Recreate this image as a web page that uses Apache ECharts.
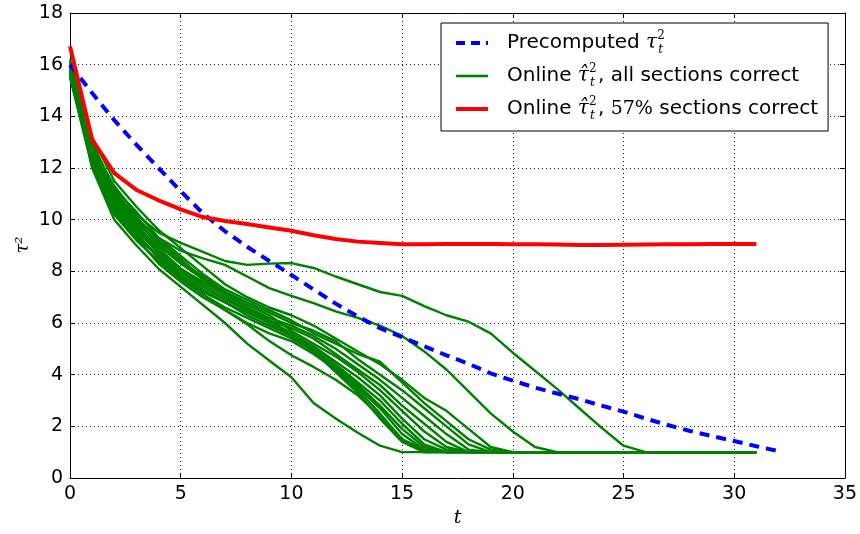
<!DOCTYPE html>
<html>
<head>
<meta charset="utf-8">
<script src="https://cdn.jsdelivr.net/npm/echarts@6/dist/echarts.min.js"></script>
<style>
  html, body { margin: 0; padding: 0; background: #fff; }
  #chart { width: 860px; height: 534px; }
</style>
</head>
<body>
<div id="chart"></div>
<script>
// x ticks / y ticks
var xTicks = [0, 5, 10, 15, 20, 25, 30, 35];
var yTicks = [0, 2, 4, 6, 8, 10, 12, 14, 16, 18];

// precomputed tau^2, t = 0..32
var precomputed = [16.0, 14.9, 13.85, 12.9, 12.0, 11.1, 10.25, 9.55, 8.95, 8.4, 7.86, 7.3, 6.75, 6.25, 5.8, 5.45,
  5.1, 4.75, 4.42, 4.05, 3.77, 3.5, 3.27, 3.05, 2.8, 2.57, 2.3, 2.05, 1.82, 1.62, 1.43, 1.23, 1.04];

// online, 57% sections correct, t = 0..31
var online57 = [16.7, 13.1, 11.8, 11.15, 10.75, 10.4, 10.1, 9.95, 9.83, 9.7, 9.57, 9.4, 9.25, 9.15, 9.1, 9.05,
  9.05, 9.06, 9.06, 9.06, 9.05, 9.05, 9.04, 9.02, 9.02, 9.03, 9.04, 9.05, 9.05, 9.06, 9.06, 9.06];

// online, all sections correct (one run per array, t = 0.., padded with 1.0 to t = 31)
var runA = [16.0, 12.8, 11.3, 10.2, 9.5, 9.1, 8.75, 8.4, 8.25, 8.3, 8.32, 8.13, 7.8, 7.5, 7.2, 7.05, 6.65, 6.3, 6.05, 5.6, 4.85, 4.15, 3.45, 2.7, 1.95, 1.25, 1.0];
var runB = [15.8, 12.5, 11.0, 10.0, 9.3, 8.8, 8.5, 8.25, 7.8, 7.35, 7.05, 6.77, 6.45, 6.2, 5.9, 5.5, 4.9, 4.2, 3.35, 2.5, 1.8, 1.2, 1.0];
var runC = [15.6, 12.0, 10.0, 9.0, 8.1, 7.4, 6.7, 6.0, 5.2, 4.55, 3.9, 2.9, 2.3, 1.75, 1.25, 1.0];
var runD = [15.9, 12.3, 10.4, 9.3, 8.6, 7.8, 7.1, 6.5, 5.95, 5.3, 4.75, 4.3, 3.8, 3.2, 2.4, 1.5, 1.1, 1.0];
var runE = [16.1, 13.2, 11.5, 10.5, 9.6, 8.9, 8.2, 7.5, 7.0, 6.6, 6.3, 5.9, 5.4, 4.9, 4.4, 3.8, 3.1, 2.6, 1.9, 1.2, 1.0];
var runF = [15.9, 13.0, 11.2, 10.3, 9.3, 8.6, 7.9, 7.3, 6.9, 6.5, 6.1, 5.6, 5.2, 4.8, 4.5, 3.7, 2.9, 2.2, 1.5, 1.1, 1.0];
var runG = [16.0, 12.8, 11.0, 10.0, 9.0, 8.3, 7.7, 7.2, 6.8, 6.4, 6.0, 5.7, 5.3, 4.6, 4.0, 3.4, 2.7, 2.0, 1.3, 1.0];
var runH = [15.7, 12.6, 10.8, 9.8, 8.9, 8.1, 7.6, 7.1, 6.6, 6.2, 5.9, 5.5, 5.0, 4.4, 3.8, 3.1, 2.4, 1.7, 1.1, 1.0];
var runI = [15.8, 12.5, 10.6, 9.6, 8.7, 8.0, 7.4, 6.9, 6.5, 6.1, 5.8, 5.4, 4.8, 4.2, 3.6, 2.8, 2.1, 1.4, 1.0];
var runJ = [16.2, 12.7, 10.9, 9.9, 9.1, 8.4, 7.8, 7.2, 6.7, 6.3, 5.7, 5.2, 4.7, 4.1, 3.4, 2.6, 1.8, 1.2, 1.0];
var runK = [15.6, 12.3, 10.4, 9.4, 8.6, 7.9, 7.3, 6.8, 6.4, 6.0, 5.6, 5.1, 4.5, 3.9, 3.2, 2.3, 1.5, 1.1, 1.0];
var runL = [15.9, 12.4, 10.5, 9.5, 8.5, 7.8, 7.2, 6.8, 6.3, 5.9, 5.5, 5.0, 4.4, 3.7, 3.0, 2.1, 1.3, 1.0];
var runM = [15.5, 12.1, 10.2, 9.2, 8.4, 7.7, 7.1, 6.6, 6.2, 5.8, 5.4, 4.9, 4.3, 3.6, 2.8, 1.9, 1.2, 1.0];
var runN = [16.0, 12.9, 11.1, 10.1, 9.2, 8.5, 7.7, 7.1, 6.6, 6.1, 5.6, 5.0, 4.3, 3.5, 2.7, 1.7, 1.1, 1.0];
var runO = [15.7, 12.2, 10.3, 9.3, 8.3, 7.6, 7.0, 6.5, 6.0, 5.6, 5.3, 4.8, 4.2, 3.4, 2.5, 1.5, 1.0];
var runP = [15.8, 12.6, 10.7, 9.7, 8.8, 8.1, 7.5, 7.0, 6.5, 6.0, 5.5, 4.9, 4.1, 3.3, 2.3, 1.4, 1.0];
var greenRuns = [runA, runB, runC, runD, runE, runF, runG, runH, runI, runJ, runK, runL, runM, runN, runO, runP];
var lastT = 31;
var floorValue = 1.0;

function pairs(arr) {
  var out = [];
  for (var i = 0; i < arr.length; i++) out.push([i, arr[i]]);
  return out;
}
function padRun(arr) {
  var out = arr.slice();
  while (out.length <= lastT) out.push(floorValue);
  return out;
}

var FONT = "DejaVu Sans";
var chart = echarts.init(document.getElementById("chart"));

var series = [];
greenRuns.forEach(function (r) {
  series.push({
    name: "all",
    type: "line",
    data: pairs(padRun(r)),
    symbol: "none",
    z: 2,
    lineStyle: { color: "#008000", width: 2.4 },
    itemStyle: { color: "#008000" }
  });
});
series.unshift({
  name: "pre",
  type: "line",
  data: pairs(precomputed),
  symbol: "none",
  z: 3,
  lineStyle: { color: "#0000ff", width: 4, type: [10, 7] },
  itemStyle: { color: "#0000ff" }
});
series.push({
  name: "part",
  type: "line",
  data: pairs(online57),
  symbol: "none",
  z: 4,
  lineStyle: { color: "#ff0000", width: 4 },
  itemStyle: { color: "#ff0000" }
});

var legendText = {
  pre: "{g| }Precomputed {m|τ}{sp|2}{sb|t}",
  all: "{g| }Online {m|τ̂}{sp|2}{sb|t}, all sections correct",
  part: "{g| }Online {m|τ̂}{sp|2}{sb|t}, {n|57%} sections correct"
};

chart.setOption({
  animation: false,
  backgroundColor: "#fff",
  grid: { left: 70, right: 15, top: 13, bottom: 56 },
  // y axis title, rotated
  graphic: [{
    type: "text",
    x: 23,
    y: 245,
    rotation: Math.PI / 2,
    style: {
      text: "τ²",
      fill: "#000",
      font: "italic 18px 'DejaVu Serif'",
      textAlign: "center",
      textVerticalAlign: "middle"
    }
  }],
  legend: {
    data: [
      { name: "pre", lineStyle: { width: 4, type: [9, 6], color: "#0000ff" } },
      { name: "all", lineStyle: { width: 2.6, color: "#008000" } },
      { name: "part", lineStyle: { width: 4, color: "#ff0000" } }
    ],
    orient: "vertical",
    left: 441,
    top: 23,
    padding: [7, 10, 9, 13],
    itemGap: 7,
    itemWidth: 32,
    itemHeight: 26,
    backgroundColor: "#fff",
    borderColor: "#000",
    borderWidth: 1,
    borderRadius: 0,
    itemStyle: { opacity: 0 },
    formatter: function (name) { return legendText[name]; },
    textStyle: {
      fontFamily: FONT,
      fontSize: 20,
      color: "#000",
      lineHeight: 26,
      rich: {
        g: { width: 14 },
        m: { fontFamily: "DejaVu Serif", fontStyle: "italic", fontSize: 20, lineHeight: 26 },
        n: { fontFamily: "DejaVu Serif", fontSize: 19, lineHeight: 26 },
        sp: { fontFamily: "DejaVu Serif", fontSize: 12, verticalAlign: "top", lineHeight: 16, width: 1 },
        sb: { fontFamily: "DejaVu Serif", fontStyle: "italic", fontSize: 12, verticalAlign: "bottom", lineHeight: 12, width: 8 }
      }
    }
  },
  xAxis: [{
    type: "value",
    min: xTicks[0],
    max: xTicks[xTicks.length - 1],
    interval: 5,
    name: "t",
    nameLocation: "middle",
    nameGap: 31,
    nameTextStyle: { fontFamily: "DejaVu Serif", fontStyle: "italic", fontSize: 19, color: "#000" },
    axisLine: { lineStyle: { color: "#000", width: 1 } },
    axisTick: { inside: true, length: 5, lineStyle: { color: "#000" } },
    axisLabel: { fontFamily: FONT, fontSize: 19, color: "#000", margin: 7 },
    splitLine: { show: true, lineStyle: { color: "#222", type: [1, 3], width: 1 } }
  }, {
    type: "value",
    position: "top",
    min: xTicks[0],
    max: xTicks[xTicks.length - 1],
    interval: 5,
    axisLine: { show: true, onZero: false, lineStyle: { color: "#000", width: 1 } },
    axisTick: { show: true, inside: true, length: 5, lineStyle: { color: "#000" } },
    axisLabel: { show: false },
    splitLine: { show: false }
  }],
  yAxis: [{
    type: "value",
    min: yTicks[0],
    max: yTicks[yTicks.length - 1],
    interval: 2,
    axisLine: { show: true, onZero: false, lineStyle: { color: "#000", width: 1 } },
    axisTick: { show: true, inside: true, length: 5, lineStyle: { color: "#000" } },
    axisLabel: { fontFamily: FONT, fontSize: 19, color: "#000", margin: 7 },
    splitLine: { show: true, lineStyle: { color: "#222", type: [1, 3], width: 1 } }
  }, {
    type: "value",
    position: "right",
    min: yTicks[0],
    max: yTicks[yTicks.length - 1],
    interval: 2,
    axisLine: { show: true, onZero: false, lineStyle: { color: "#000", width: 1 } },
    axisTick: { show: true, inside: true, length: 5, lineStyle: { color: "#000" } },
    axisLabel: { show: false },
    splitLine: { show: false }
  }],
  series: series
});
</script>
</body>
</html>
